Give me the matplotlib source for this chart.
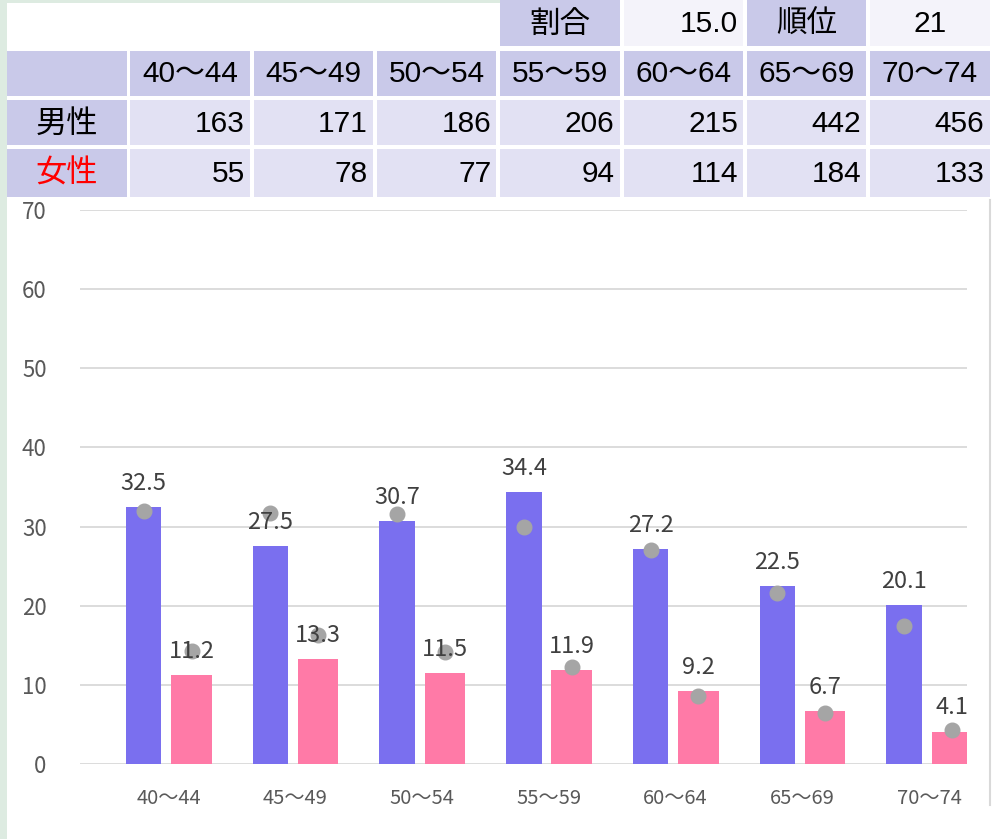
import matplotlib.pyplot as plt
import numpy as np
from matplotlib.patches import Rectangle

ages = ['40～44', '45～49', '50～54', '55～59', '60～64', '65～69', '70～74']
male_count = [163, 171, 186, 206, 215, 442, 456]
female_count = [55, 78, 77, 94, 114, 184, 133]
male_rate = [32.5, 27.5, 30.7, 34.4, 27.2, 22.5, 20.1]
female_rate = [11.2, 13.3, 11.5, 11.9, 9.2, 6.7, 4.1]
male_ref = [32.0, 31.7, 31.6, 29.9, 27.1, 21.6, 17.4]
female_ref = [14.3, 16.3, 14.2, 12.2, 8.6, 6.4, 4.3]
ratio = 15.0
rank = 21

W, H = 992, 839
fig = plt.figure(figsize=(W/100, H/100), dpi=100)

# table area drawn in pixel coords
bg = fig.add_axes([0, 0, 1, 1])
bg.set_xlim(0, W)
bg.set_ylim(H, 0)
bg.axis('off')

head_c = '#C9C9E9'
cell_c = '#E2E1F3'
light_c = '#F4F3FA'
tfont = ['Liberation Sans', 'Noto Sans CJK JP']
jfont = ['Noto Sans CJK JP']

bg.add_patch(Rectangle((0, 0), 7, H, color='#DDEBE1', lw=0))
bg.add_patch(Rectangle((0, 0), 500, 3, color='#DDEBE1', lw=0))
bg.plot([990, 990], [200, 805], color='#D9D9D9', lw=1.5)

col_x = [7 + 123.3*i for i in range(8)]
cw = 119.5
rows = [(0, 46), (51, 96), (100, 145), (149, 197)]

def cell(ci, ri, color, text='', ha='center', tcolor='black', fam=tfont, size=21.5):
    x0 = col_x[ci]
    y0, y1 = rows[ri]
    bg.add_patch(Rectangle((x0, y0), cw, y1 - y0, color=color, lw=0))
    if text != '':
        if ha == 'center':
            tx = x0 + cw/2
        else:
            tx = x0 + cw - 5
        bg.text(tx, (y0 + y1)/2 + 1, text, ha=ha, va='center', color=tcolor,
                family=fam, fontsize=size)

cell(4, 0, head_c, '割合', fam=jfont, size=22)
cell(5, 0, light_c, f'{ratio:.1f}', ha='right')
cell(6, 0, head_c, '順位', fam=jfont, size=22)
cell(7, 0, light_c, str(rank))
cell(0, 1, head_c)
cell(0, 2, head_c, '男性', fam=jfont, size=22.5)
cell(0, 3, head_c, '女性', tcolor='#FF0000', fam=jfont, size=22.5)
for i in range(7):
    cell(i+1, 1, head_c, ages[i])
    cell(i+1, 2, cell_c, str(male_count[i]), ha='right')
    cell(i+1, 3, cell_c, str(female_count[i]), ha='right')

# chart
ax = fig.add_axes([80/W, (H-764)/H, 887/W, 554/H])
x = np.arange(len(ages))
ax.bar(x - 0.197, male_rate, width=0.28, color='#7A6FEF', zorder=2)
ax.bar(x + 0.18, female_rate, width=0.32, color='#FF7AA7', zorder=2)
ax.plot(x - 0.197, male_ref, 'o', color='#A5A5A5', ms=10.5, zorder=3)
ax.plot(x + 0.18, female_ref, 'o', color='#A5A5A5', ms=10.5, zorder=3)

for i in range(len(ages)):
    ax.annotate(f'{male_rate[i]:.1f}', (x[i] - 0.197, male_rate[i]), xytext=(0, 17),
                textcoords='offset points', ha='center', va='center',
                fontsize=17, color='#404040', family=jfont, zorder=4)
    ax.annotate(f'{female_rate[i]:.1f}', (x[i] + 0.18, female_rate[i]), xytext=(0, 17),
                textcoords='offset points', ha='center', va='center',
                fontsize=17, color='#404040', family=jfont, zorder=4)

ax.set_xlim(-0.70, 6.30)
ax.set_ylim(0, 70)
ax.set_yticks(range(0, 71, 10))
ax.set_xticks(x)
ax.set_xticklabels(ages, family=jfont, fontsize=14.5, color='#595959')
for lab in ax.get_yticklabels():
    lab.set_family(jfont)
    lab.set_fontsize(16)
    lab.set_color('#595959')
ax.tick_params(axis='y', length=0, pad=24)
ax.tick_params(axis='x', length=0, pad=17)
ax.grid(axis='y', color='#D9D9D9', lw=1.3, zorder=0)
for s in ax.spines.values():
    s.set_visible(False)
ax.set_facecolor('none')

fig.savefig('out.png', dpi=100)
